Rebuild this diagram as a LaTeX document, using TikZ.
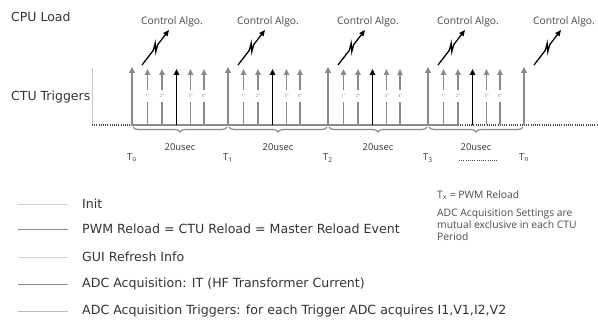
\documentclass[tikz,border=0pt]{standalone}
\usepackage{fontspec}
\setmainfont{DejaVu Sans}
\newfontfamily\annfont{Open Sans}
\usetikzlibrary{calc,decorations.pathreplacing,arrows.meta}
\definecolor{trg}{HTML}{8A8A8A}
\definecolor{txt}{HTML}{333333}
\definecolor{ann}{HTML}{4A4A4A}
\begin{document}
\begin{tikzpicture}[x=1pt,y=-1pt,
  bigtrig/.style={draw=trg, line width=1.9pt, -{Triangle[length=6pt,width=6pt]}},
  smalltrig/.style={draw=trg, line width=1.6pt, -{Triangle[length=6pt,width=5.5pt]}},
  blacktrig/.style={draw=black, line width=1.8pt, -{Triangle[length=6pt,width=5.5pt]}},
  bolt/.style={draw=black, line width=1.3pt, -{Triangle[length=6pt,width=5pt]}, line join=miter},
  ordlab/.style={font=\annfont\fontsize{4.5}{4.5}\selectfont, text=trg, fill=white, inner xsep=0.6pt, inner ysep=4pt},
  ctext/.style={font=\annfont\fontsize{10.3}{11}\selectfont, text=ann, inner sep=0pt},
  tlab/.style={font=\annfont\fontsize{9.5}{10}\selectfont, text=txt, inner sep=0pt},
  usec/.style={font=\annfont\fontsize{9.4}{10}\selectfont, text=txt, inner sep=0pt},
  brc/.style={draw=trg, line width=1.2pt, decorate, decoration={brace, mirror, amplitude=5pt}},
  base/.style={draw=trg, line width=1.6pt},
  dots/.style={draw=ann, line width=1.1pt, dash pattern=on 1pt off 1.2pt},
  head/.style={font=\fontsize{12.5}{15}\selectfont, text=txt, inner sep=0pt, anchor=west},
  legtext/.style={font=\fontsize{12.6}{15}\selectfont, text=txt, inner sep=0pt, anchor=west},
  note/.style={font=\annfont\fontsize{10.3}{12.3}\selectfont, text=ann, inner sep=0pt, anchor=north west, align=left},
]
\useasboundingbox (0,0) rectangle (598,320);

% headings
\node[head] (cpu) at (11,17) {CPU Load};
\node[head] (ctu) at (11,97) {CTU Triggers};

% baseline
\coordinate (d0) at (92,125);
\coordinate (d1) at (131,125);
\coordinate (d2) at (458,125);
\coordinate (d3) at (598,125);
\coordinate (v0) at (92,68);
\draw[draw=gray!45, line width=0.9pt] (d0) -- (v0);
\draw[dots] (d0) -- (d1);
\draw[base] (d1) -- (d2);
\draw[dots] (d2) -- (d3);

% reload arrows, control algo, T labels
\foreach \k/\t/\lab in {0/132/o,1/228/1,2/328/2,3/428/3,4/524/n} {
  \coordinate (b\k) at (\t,125);
  \coordinate (t\k) at (\t,67);
  \draw[bigtrig] (b\k) -- (t\k);
  \node[tlab] (T\k) at (\t,158) {T\textsubscript{\lab}};
  \coordinate (ca\k) at (\t+10,65);
  \coordinate (cb\k) at (\t+37,30);
  \draw[bolt] (ca\k) -- ($(ca\k)!0.42!(cb\k)$)
     -- ($(ca\k)!0.57!(cb\k)!2.8pt!90:(cb\k)$)
     -- ($(ca\k)!0.43!(cb\k)!2.8pt!-90:(cb\k)$)
     -- ($(ca\k)!0.58!(cb\k)$) -- (cb\k);
  \node[ctext] (c\k) at (\t+40,22) {Control Algo.};
}

% trigger arrows per period
\foreach \k/\t/\u in {0/132/228,1/228/328,2/328/428,3/428/524} {
  \foreach \o/\n [count=\i] in {15.5/1°,30/2°,58.5/3°,72/4°} {
    \coordinate (sb\k\i) at (\t+\o,125);
    \coordinate (st\k\i) at (\t+\o,69);
    \draw[smalltrig] (sb\k\i) -- (st\k\i);
    \node[ordlab] (l\k\i) at (\t+\o,96) {\n};
  }
  \coordinate (kb\k) at (\t+44.5,125);
  \coordinate (kt\k) at (\t+44.5,69);
  \draw[blacktrig] (kb\k) -- (kt\k);
  \coordinate (br\k) at (\t+1,127);
  \coordinate (be\k) at (\u-1,127);
  \draw[brc] (br\k) -- (be\k);
  \node[usec] (u\k) at ({(\t+\u)/2},147) {20usec};
}
\coordinate (e0) at (459,160);
\coordinate (e1) at (497,160);
\draw[dots, line width=0.7pt] (e0) -- (e1);

% note
\node[note, anchor=west] (tx) at (437,195) {T\textsubscript{x} = PWM Reload};
\node[note] (adcnote) at (437,208.5) {ADC Acquisition Settings are\\mutual exclusive in each CTU\\Period};

% legend
\foreach \y/\c/\txt [count=\i] in {
  205/D2D2D2/{Init},
  230/8C8C8C/{PWM Reload = CTU Reload = Master Reload Event},
  258/D2D2D2/{GUI Refresh Info},
  285/8C8C8C/{ADC Acquisition: IT (HF Transformer Current)},
  312/BDBDBD/{ADC Acquisition Triggers: for each Trigger ADC acquires I1,V1,I2,V2}} {
  \definecolor{lc}{HTML}{\c}
  \coordinate (la\i) at (18,\y);
  \coordinate (lb\i) at (68,\y);
  \draw[draw=lc, line width=1pt] (la\i) -- (lb\i);
  \node[legtext] (lt\i) at (82,\y-1) {\txt};
}
\end{tikzpicture}
\end{document}
